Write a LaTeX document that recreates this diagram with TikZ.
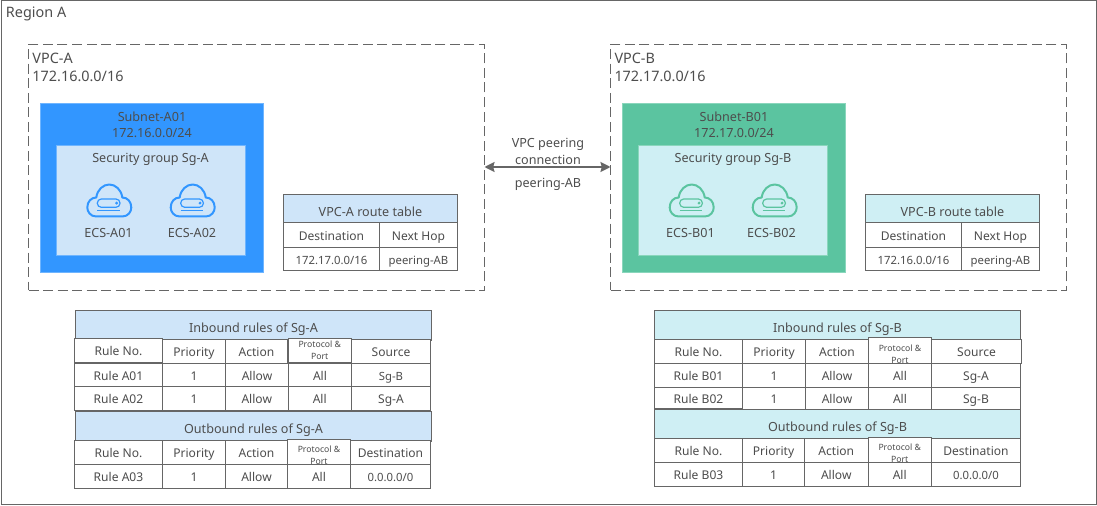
\documentclass[tikz,border=0pt]{standalone}
\usepackage{fontspec}
\setmainfont{Noto Sans}
\usetikzlibrary{arrows.meta}
\definecolor{ink}{HTML}{4D4D4D}
\definecolor{rule}{HTML}{666666}
\definecolor{azure}{HTML}{3296FF}
\definecolor{azure edge}{HTML}{6FB5FF}
\definecolor{azure pale}{HTML}{CFE5F9}
\definecolor{jade}{HTML}{5BC4A0}
\definecolor{jade edge}{HTML}{8AD6BC}
\definecolor{jade pale}{HTML}{CFEFF4}
\newcommand{\bigtext}{\fontsize{10.8}{13.5}\selectfont}
\newcommand{\midtext}{\fontsize{9.45}{12.2}\selectfont}
\newcommand{\celltext}{\fontsize{9.05}{12}\selectfont}
\newcommand{\numtext}{\fontsize{8.5}{12}\selectfont}
\newcommand{\tinytext}{\fontsize{6.5}{9}\selectfont}
\newcommand{\clippedport}{\rule{0pt}{10pt}Protocol \&\\Port}

\begin{document}
\begin{tikzpicture}[x=.75pt, y=-.75pt, text=ink,
	      boxed/.style n args={2}{anchor=north west, inner sep=0pt, outer sep=0pt,
	        minimum width=#1*.75pt, minimum height=#2*.75pt},
	      portcell/.style 2 args={boxed={#1}{#2}, draw=rule, line width=.75pt, fill=white, font=\tinytext, align=center},
	      cell/.style 2 args={boxed={#1}{#2}, draw=rule, line width=.75pt, fill=white, font=\celltext,
	        text height=8pt, text depth=0pt},
	      tablehead/.style n args={3}{cell={#1}{#2}, fill=#3, font=\midtext, text height=11pt},
	      plain/.style={inner sep=0pt, outer sep=0pt, font=\midtext, align=center},
	      vpc/.style={boxed={456}{246}, draw=rule, line width=.75pt, dash pattern=on 7.5pt off 3.4pt},
	      pics/ecsicon/.style={code={
	        \draw[#1, line width=1.5pt, line join=round] (-13,16) .. controls (-19,16) and (-22,11) .. (-22,7)
	          .. controls (-22,1) and (-18,-3) .. (-13,-3)
	          .. controls (-12,-11) and (-6,-16) .. (0,-16)
	          .. controls (6,-16) and (12,-11) .. (13,-3)
	          .. controls (18,-3) and (22,1) .. (22,7)
	          .. controls (22,11) and (19,16) .. (13,16) -- cycle;
	        \draw[#1, line width=.9pt, rounded corners=3pt] (-12,-1.5) rectangle (10.7,6.8);
	        \fill[#1] (7.3,2.6) circle (1.6);
	        \draw[#1, line width=.9pt] (-12,10.2) -- (10.7,10.2);
	      }}]
\useasboundingbox (0,0) rectangle (1097,506);

\node[boxed={1095}{503}, draw=rule, line width=.75pt] (region) at (1,1) {};
\node[plain, anchor=west, font=\bigtext] (region label) at (6,14) {Region A};

% VPC-A side
\node[vpc] (vpc a) at (28.5,44.5) {};
\node[plain, anchor=west, align=left, font=\bigtext] (vpc a label) at (32.5,67) {VPC-A\\172.16.0.0/16};
\node[boxed={223}{168.5}, fill=azure, draw=azure edge, line width=.5pt] (subnet a) at (40.5,103.5) {};
\node[plain] (subnet a label) at (152,124.5) {Subnet-A01\\172.16.0.0/24};
\node[boxed={189}{110}, fill=azure pale, draw=azure edge, line width=.5pt] (sg a) at (56.5,145.5) {};
\node[plain] (sg a label) at (150.5,159) {Security group Sg-A};
\pic at (109.3,200.5) {ecsicon=azure};
\pic at (192.7,200.5) {ecsicon=azure};
\node[plain] (ecs a1) at (108.5,233) {ECS-A01};
\node[plain] (ecs a2) at (192,233) {ECS-A02};

\node[tablehead={174}{28}{azure pale}] (route a) at (283.5,195) {VPC-A route table};
\node[cell={96}{25}] (route a dest) at (283.5,223) {Destination};
\node[cell={78}{25}] (route a hop) at (379.5,223) {Next Hop};
\node[cell={96}{23}, font=\numtext] (route a net) at (283.5,248) {172.17.0.0/16};
\node[cell={78}{23}, font=\numtext] (route a peer) at (379.5,248) {peering-AB};

% VPC-B side
\node[vpc] (vpc b) at (610.5,44.5) {};
\node[plain, anchor=west, align=left, font=\bigtext] (vpc b label) at (614.5,67) {VPC-B\\172.17.0.0/16};
\node[boxed={223}{168.5}, fill=jade, draw=jade edge, line width=.5pt] (subnet b) at (622.5,103.5) {};
\node[plain] (subnet b label) at (734,124.5) {Subnet-B01\\172.17.0.0/24};
\node[boxed={189}{110}, fill=jade pale, draw=jade edge, line width=.5pt] (sg b) at (638.5,145.5) {};
\node[plain] (sg b label) at (733,159) {Security group Sg-B};
\pic at (691.7,200.5) {ecsicon=jade};
\pic at (774.7,200.5) {ecsicon=jade};
\node[plain] (ecs b1) at (690.5,233) {ECS-B01};
\node[plain] (ecs b2) at (771.5,233) {ECS-B02};

\node[tablehead={174}{28}{jade pale}] (route b) at (865.5,195) {VPC-B route table};
\node[cell={96}{25}] (route b dest) at (865.5,223) {Destination};
\node[cell={78}{25}] (route b hop) at (961.5,223) {Next Hop};
\node[cell={96}{23}, font=\numtext] (route b net) at (865.5,248) {172.16.0.0/16};
\node[cell={78}{23}, font=\numtext] (route b peer) at (961.5,248) {peering-AB};

% peering
\coordinate (peer left) at (vpc a.east |- 0,167);
\coordinate (peer right) at (vpc b.west |- 0,167);
\draw[{Stealth[length=7.5pt,width=7.5pt,inset=1pt]}-{Stealth[length=7.5pt,width=7.5pt,inset=1pt]}, draw=rule, fill=rule, line width=1.5pt] (peer left) -- (peer right);
\node[plain] (peer label) at (548,151.5) {VPC peering\\connection};
\node[plain] (peer name) at (548,184) {peering-AB};

% rules of Sg-A
\node[tablehead={356}{29.5}{azure pale}] (in a) at (75.5,310.5) {Inbound rules of Sg-A};
\node[cell={88}{24}] (in a rule) at (74.5,338.5) {Rule No.};
\node[cell={63}{24}] (in a prio) at (162.5,339.5) {Priority};
\node[cell={62}{24}] (in a act) at (225.5,339.5) {Action};
\node[portcell={63.5}{24.5}] (in a port) at (288,338) {Protocol \&\\Port};
\node[cell={79}{24}] (in a src) at (351.5,339.5) {Source};
\node[cell={88}{23}] (a01 rule) at (74.5,363.5) {Rule A01};
\node[cell={63}{23}] (a01 prio) at (162.5,363.5) {1};
\node[cell={63}{23}] (a01 act) at (225.5,363.5) {Allow};
\node[cell={63}{23}] (a01 port) at (288.5,363.5) {All};
\node[cell={79}{23}, font=\numtext] (a01 src) at (351.5,363.5) {Sg-B};
\node[cell={88}{24}] (a02 rule) at (74.5,386.5) {Rule A02};
\node[cell={63}{24}] (a02 prio) at (162.5,386.5) {1};
\node[cell={62.5}{24}] (a02 act) at (225.5,386.5) {Allow};
\node[cell={63.5}{24}] (a02 port) at (288,386.5) {All};
\node[cell={79}{24}] (a02 src) at (351.5,386.5) {Sg-A};

\node[tablehead={356}{29.5}{azure pale}] (out a) at (75.5,411.5) {Outbound rules of Sg-A};
\node[portcell={63}{25}] (out a port) at (287.5,439.5) {\clippedport};
\node[cell={88}{24}] (out a rule) at (74.5,440.5) {Rule No.};
\node[cell={63}{24}] (out a prio) at (162.5,440.5) {Priority};
\node[cell={62}{24}] (out a act) at (225.5,440.5) {Action};
\node[cell={80}{24}] (out a dst) at (350.5,440.5) {Destination};
\node[cell={88}{23.5}] (a03 rule) at (74.5,464.5) {Rule A03};
\node[cell={63}{23.5}] (a03 prio) at (162.5,464.5) {1};
\node[cell={62}{23.5}] (a03 act) at (225.5,464.5) {Allow};
\node[cell={63}{23.5}] (a03 port) at (287.5,464.5) {All};
\node[cell={80}{23.5}, font=\numtext] (a03 dst) at (350.5,464.5) {0.0.0.0/0};

% rules of Sg-B
\node[tablehead={366}{29.5}{jade pale}] (in b) at (654.5,310.5) {Inbound rules of Sg-B};
\node[cell={88}{24}] (in b rule) at (654.5,339.5) {Rule No.};
\node[cell={63}{24}] (in b prio) at (742.5,339.5) {Priority};
\node[cell={63}{24}] (in b act) at (805.5,339.5) {Action};
\node[portcell={63}{26}] (in b port) at (868.5,337.5) {\clippedport};
\node[cell={90}{24}] (in b src) at (931.5,339.5) {Source};
\node[cell={88}{24}] (b01 rule) at (654.5,363.5) {Rule B01};
\node[cell={63}{24}] (b01 prio) at (742.5,363.5) {1};
\node[cell={63}{24}] (b01 act) at (805.5,363.5) {Allow};
\node[cell={63}{24}] (b01 port) at (868.5,363.5) {All};
\node[cell={89}{24}] (b01 src) at (931.5,363.5) {Sg-A};
\node[cell={88}{21}] (b02 rule) at (654.5,387.5) {Rule B02};
\node[cell={63}{22}] (b02 prio) at (742.5,387.5) {1};
\node[cell={63}{22}] (b02 act) at (805.5,387.5) {Allow};
\node[cell={63}{22}] (b02 port) at (868.5,387.5) {All};
\node[cell={89}{22}] (b02 src) at (931.5,387.5) {Sg-B};

\node[tablehead={366}{29.5}{jade pale}] (out b) at (654.5,409.5) {Outbound rules of Sg-B};
\node[portcell={63.5}{25.5}] (out b port) at (868,437) {\clippedport};
\node[cell={88}{24}] (out b rule) at (654.5,438.5) {Rule No.};
\node[cell={62}{24}] (out b prio) at (742.5,438.5) {Priority};
\node[cell={63.5}{24}] (out b act) at (804.5,438.5) {Action};
\node[cell={89}{24}] (out b dst) at (931.5,438.5) {Destination};
\node[cell={88}{23.5}] (b03 rule) at (654.5,462.5) {Rule B03};
\node[cell={62}{23.5}] (b03 prio) at (742.5,462.5) {1};
\node[cell={63.5}{23.5}] (b03 act) at (804.5,462.5) {Allow};
\node[cell={63.5}{23.5}] (b03 port) at (868,462.5) {All};
\node[cell={89}{23.5}, font=\numtext] (b03 dst) at (931.5,462.5) {0.0.0.0/0};
\end{tikzpicture}
\end{document}
